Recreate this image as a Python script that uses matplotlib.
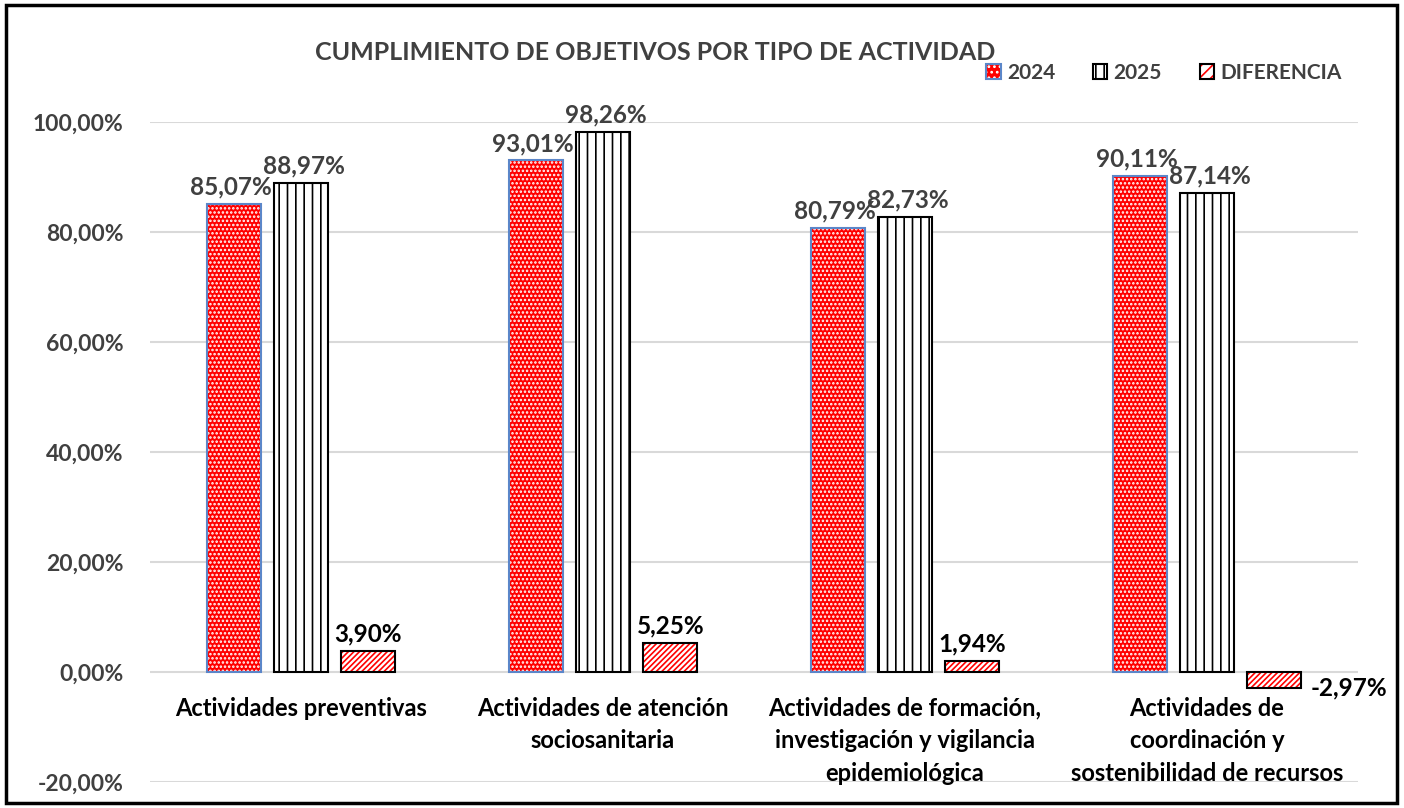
import matplotlib.pyplot as plt
import matplotlib.patches as mpatches
from matplotlib.ticker import FuncFormatter
import numpy as np

plt.rcParams['font.family'] = ['Lato', 'DejaVu Sans']
plt.rcParams['hatch.linewidth'] = 1.2

categories = ["Actividades preventivas",
              "Actividades de atención\nsociosanitaria",
              "Actividades de formación,\ninvestigación y vigilancia\nepidemiológica",
              "Actividades de\ncoordinación y\nsostenibilidad de recursos"]
v2024 = [0.8507, 0.9301, 0.8079, 0.9011]
v2025 = [0.8897, 0.9826, 0.8273, 0.8714]
diff = [0.0390, 0.0525, 0.0194, -0.0297]

grey_txt = "#404040"


def pct(v):
    return f"{v * 100:.2f}%".replace(".", ",")


fig = plt.figure(figsize=(14.04, 8.08), dpi=100)
ax = fig.add_axes([150 / 1404, 1 - 782 / 808, 1208 / 1404, 660 / 808])

x = np.arange(len(categories))
w = 0.178
step = 0.223

# 2024: red with white dots, blue edge
ax.bar(x - step, v2024, w, color="#ff0000", edgecolor="white", hatch="....", linewidth=0, zorder=3)
ax.bar(x - step, v2024, w, facecolor="none", edgecolor="#5b86c9", linewidth=1.5, zorder=4)
# 2025: white with vertical black lines
ax.bar(x, v2025, w, color="white", edgecolor="black", hatch="||", linewidth=1.5, zorder=3)
# diferencia: white with red diagonal lines
ax.bar(x + step, diff, w, color="white", edgecolor="#ff0000", hatch="//////", linewidth=0, zorder=3)
ax.bar(x + step, diff, w, facecolor="none", edgecolor="black", linewidth=1.5, zorder=4)

for i in range(len(categories)):
    ax.text(x[i] - step - 0.01, v2024[i] + 0.01, pct(v2024[i]), ha="center", va="bottom",
            fontsize=17.5, fontweight="bold", color=grey_txt)
    ax.text(x[i] + 0.01, v2025[i] + 0.01, pct(v2025[i]), ha="center", va="bottom",
            fontsize=17.5, fontweight="bold", color=grey_txt)
    if diff[i] >= 0:
        ax.text(x[i] + step, diff[i] + 0.01, pct(diff[i]), ha="center", va="bottom",
                fontsize=17.5, fontweight="bold", color="black")
    else:
        ax.text(x[i] + step + 0.12, diff[i] + 0.001, pct(diff[i]), ha="left", va="center",
                fontsize=17.5, fontweight="bold", color="black")
    ax.text(x[i], -0.045, categories[i], ha="center", va="top", fontsize=17,
            fontweight="bold", color="black", linespacing=1.5)

ax.set_xlim(-0.5, 3.5)
ax.set_ylim(-0.2, 1.0)
ax.set_yticks(np.arange(-0.2, 1.01, 0.2))
ax.yaxis.set_major_formatter(FuncFormatter(lambda v, p: pct(v)))
ax.tick_params(axis="y", length=0, pad=19, labelsize=16.5, labelcolor=grey_txt)
for lab in ax.get_yticklabels():
    lab.set_fontweight("bold")
ax.set_xticks([])
ax.grid(axis="y", color="#d9d9d9", linewidth=1.5, zorder=0)
ax.set_axisbelow(True)
for s in ax.spines.values():
    s.set_visible(False)

fig.text(655 / 1404, 1 - 52 / 808, "CUMPLIMIENTO DE OBJETIVOS POR TIPO DE ACTIVIDAD",
         ha="center", va="center", fontsize=18, fontweight="bold", color=grey_txt)

h2024 = (mpatches.Patch(facecolor="#ff0000", edgecolor="white", hatch="...", linewidth=0),
         mpatches.Patch(facecolor="none", edgecolor="#5b86c9", linewidth=1.5))
h2025 = mpatches.Patch(facecolor="white", edgecolor="black", hatch="||", linewidth=1.5)
hdiff = (mpatches.Patch(facecolor="white", edgecolor="#ff0000", hatch="///", linewidth=0),
         mpatches.Patch(facecolor="none", edgecolor="black", linewidth=1.5))
leg = fig.legend([h2024, h2025, hdiff], ["2024", "2025", "DIFERENCIA"], ncol=3, frameon=False,
                 loc="center", bbox_to_anchor=(1164 / 1404, 1 - 73 / 808),
                 handlelength=0.7, handleheight=0.7, columnspacing=1.8, handletextpad=0.3,
                 prop={"size": 15, "weight": "bold"})
for t in leg.get_texts():
    t.set_color(grey_txt)

fig.patches.append(mpatches.Rectangle((6 / 1404, 5 / 808), 1391 / 1404, 798 / 808,
                                      transform=fig.transFigure, fill=False,
                                      edgecolor="black", linewidth=2.5))

fig.savefig("out.png", dpi=100)
